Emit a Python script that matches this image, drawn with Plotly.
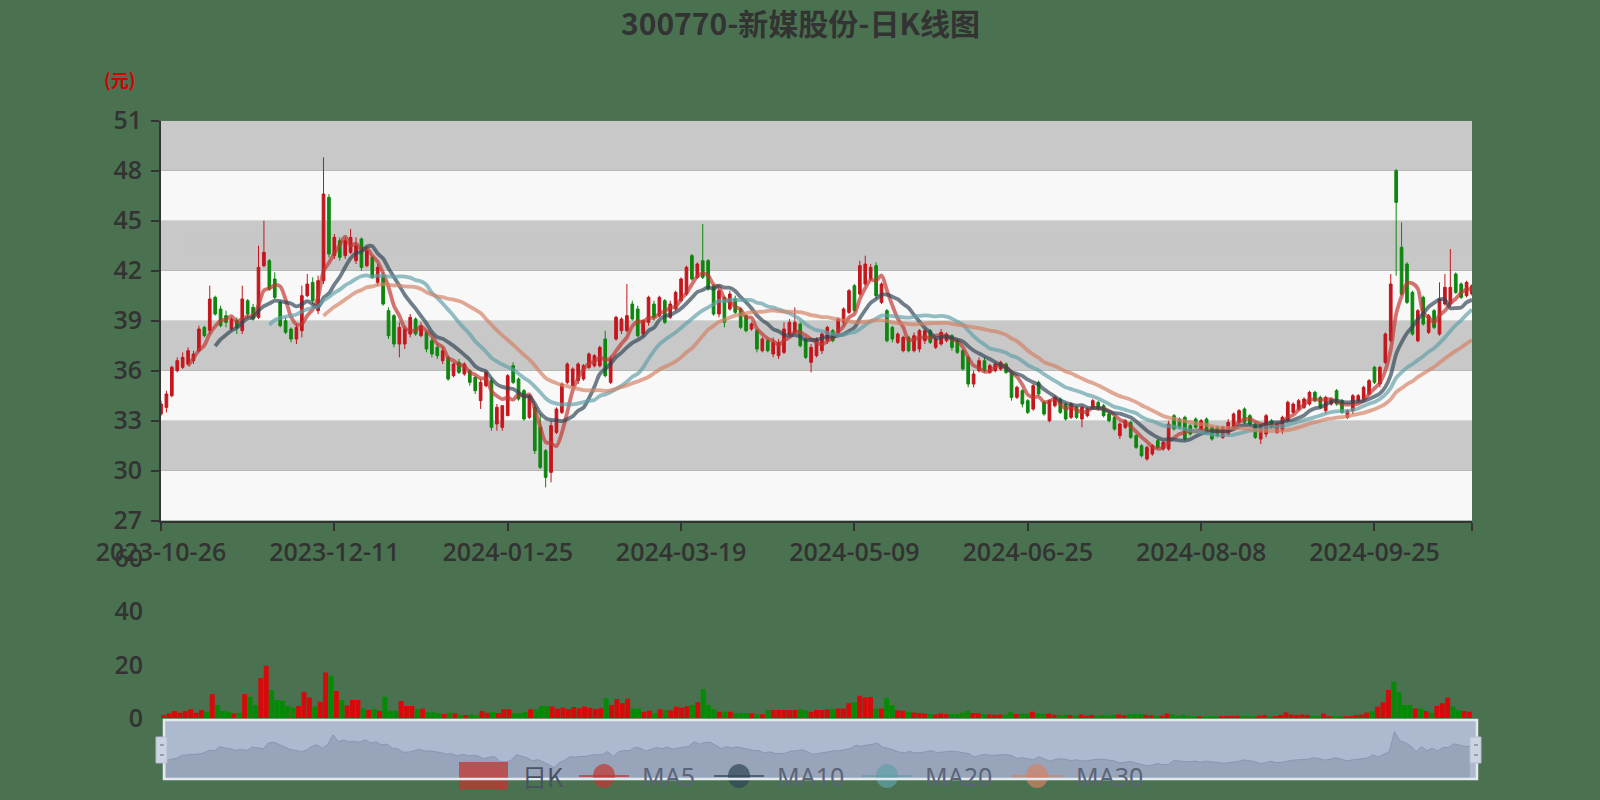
import pandas as pd
import plotly.graph_objects as go

# ---------------- data ----------------
HOLIDAYS = ["2024-01-01", "2024-02-09", "2024-02-12", "2024-02-13", "2024-02-14",
            "2024-02-15", "2024-02-16", "2024-04-04", "2024-04-05", "2024-05-01",
            "2024-05-02", "2024-05-03", "2024-06-10", "2024-09-16", "2024-09-17",
            "2024-10-01", "2024-10-02", "2024-10-03", "2024-10-04", "2024-10-07"]
dates = [d.strftime("%Y-%m-%d") for d in pd.bdate_range("2023-10-26", "2024-10-28")
         if d.strftime("%Y-%m-%d") not in HOLIDAYS]

open_p = [33.4,33.8,34.5,36.0,36.2,36.4,36.6,37.2,38.6,38.4,
          40.4,39.7,39.3,38.5,39.0,38.4,40.2,39.8,39.2,42.3,
          42.6,41.5,40.1,39.0,38.5,37.9,38.4,40.5,41.3,39.6,
          41.4,46.4,42.9,43.8,42.9,43.1,42.6,43.9,42.3,42.8,
          41.3,41.7,39.6,39.3,37.6,37.6,38.2,39.1,38.1,38.3,
          37.8,37.4,36.6,36.8,35.7,36.5,35.8,36.0,35.6,34.2,
          35.1,35.4,32.8,32.6,33.3,36.3,35.5,34.8,33.2,33.8,
          32.6,31.2,29.9,32.3,33.5,35.3,35.1,35.4,35.5,36.2,
          36.3,36.3,37.9,35.3,37.9,38.4,38.4,40.0,39.7,38.2,
          38.9,40.0,39.3,40.2,39.2,39.7,40.2,40.6,42.9,41.6,
          42.6,42.6,41.1,39.4,40.4,39.7,40.3,39.7,39.3,38.5,
          38.4,37.2,37.8,37.0,36.9,37.1,38.2,38.3,38.8,37.9,
          36.5,36.9,37.2,37.8,38.4,38.3,38.9,39.5,41.1,40.6,
          41.2,41.5,42.3,40.1,39.6,38.6,37.7,37.2,38.0,37.2,
          37.3,37.8,38.4,37.4,37.6,37.8,38.1,37.8,37.2,36.8,
          35.2,36.0,36.6,35.9,36.0,36.1,36.4,35.8,34.4,34.8,
          34.2,33.7,35.3,34.1,33.0,33.9,34.3,34.0,33.2,33.8,
          33.1,33.3,33.8,34.1,33.9,33.4,33.2,32.1,32.6,32.9,
          32.1,31.5,30.7,31.0,31.8,31.3,31.3,33.3,33.1,33.2,
          32.7,33.1,32.5,33.1,32.6,32.6,32.0,32.2,32.5,32.9,
          33.7,33.3,32.8,31.9,32.2,33.0,32.3,32.4,33.0,33.5,
          33.7,33.8,34.0,34.7,34.4,33.6,34.0,34.8,34.2,33.2,
          33.6,34.2,34.3,34.6,36.2,35.2,36.5,37.8,48.0,43.4,
          42.4,40.7,37.8,40.4,38.3,39.6,38.2,40.0,40.0,41.8,
          41.2,40.5,40.6]

high_p = [34.2,34.8,36.3,36.8,37.1,37.4,37.2,38.7,38.7,41.1,
          40.5,39.9,39.6,39.2,39.2,41.1,40.3,40.0,43.5,45.0,
          42.7,41.9,40.2,39.2,38.6,38.8,41.1,41.8,41.6,41.7,
          48.8,46.6,44.2,44.0,44.0,44.5,44.0,44.0,43.4,42.9,
          42.4,41.9,39.8,39.4,38.9,38.7,39.4,39.2,38.9,38.4,
          38.0,37.6,37.4,36.9,36.5,36.7,36.5,36.1,35.7,35.5,
          36.0,35.6,34.0,33.9,35.8,36.5,35.6,34.9,34.6,34.0,
          33.4,31.3,33.0,33.8,35.3,36.5,36.2,36.5,36.4,37.1,
          37.0,37.5,38.4,36.9,39.3,39.2,41.2,40.2,39.9,39.1,
          40.5,40.2,40.5,40.3,40.2,40.8,41.6,42.3,43.0,42.5,
          44.8,42.7,41.2,40.9,40.5,40.8,40.5,39.8,39.4,38.9,
          38.5,38.0,37.9,38.0,37.9,38.9,39.1,39.8,38.9,38.0,
          37.6,38.0,38.3,38.7,38.5,39.2,39.8,40.9,41.2,42.6,
          42.9,42.4,42.5,41.3,39.7,38.7,38.3,38.1,38.1,38.3,
          38.5,38.5,38.5,38.0,38.5,38.3,38.2,37.9,37.3,36.9,
          36.0,36.8,36.8,36.4,36.5,36.6,36.5,35.9,35.1,34.9,
          34.3,35.2,35.4,34.2,34.3,34.5,34.4,34.1,34.1,33.9,
          33.9,33.8,34.3,34.2,34.0,33.5,33.3,32.9,33.1,33.0,
          32.2,31.6,31.5,31.6,31.9,31.8,33.0,33.4,33.2,33.3,
          32.8,33.2,33.1,33.2,32.7,32.7,32.7,33.1,33.5,33.7,
          33.8,33.4,32.9,32.8,33.4,33.1,32.9,33.3,34.2,34.1,
          34.3,34.4,34.8,34.8,34.5,34.5,34.4,34.9,34.3,33.7,
          34.6,34.6,35.1,35.5,36.3,36.3,38.3,41.8,48.1,44.9,
          42.5,40.8,39.7,40.5,39.4,39.7,41.3,41.8,43.3,41.9,
          41.3,41.4,41.2]

low_p = [33.3,33.5,34.4,35.9,36.1,36.3,36.4,37.1,38.0,38.2,
         39.3,38.6,38.6,38.4,38.2,38.2,39.2,39.0,39.1,42.2,
         40.8,40.3,38.6,38.2,37.7,37.6,38.0,40.4,40.0,39.4,
         41.2,42.8,42.7,42.6,42.7,43.0,42.4,42.0,42.2,41.5,
         41.1,39.9,37.9,37.4,36.8,37.3,38.0,38.1,38.0,37.1,
         36.8,36.7,36.4,35.4,35.6,35.8,35.7,35.1,34.6,33.7,
         35.0,32.4,32.4,32.4,33.3,35.2,34.2,33.0,33.1,31.0,
         30.1,29.0,29.3,32.2,33.4,35.2,35.0,35.2,35.4,36.1,
         36.2,36.2,35.6,35.2,37.8,38.2,38.3,39.0,38.0,38.0,
         38.7,39.0,39.2,38.8,39.1,39.6,40.1,40.5,41.4,41.5,
         41.5,40.8,39.3,39.2,38.6,39.6,39.4,38.5,38.3,38.4,
         37.1,37.1,37.1,36.8,36.7,37.0,38.1,38.2,37.4,36.7,
         35.9,36.8,37.0,37.6,37.7,38.2,38.7,39.4,39.5,40.5,
         41.1,41.4,40.3,40.0,37.7,37.7,37.6,37.1,37.1,37.1,
         37.1,37.6,37.6,37.3,37.5,37.7,37.2,37.0,36.0,35.0,
         35.0,35.9,35.9,35.8,35.9,36.0,35.8,34.2,34.3,33.8,
         33.4,33.6,34.5,33.3,32.9,33.8,33.4,33.0,33.1,33.1,
         32.6,33.2,33.7,33.6,33.2,32.9,32.4,31.9,32.5,31.9,
         31.3,30.8,30.6,30.9,31.3,31.2,31.2,32.4,32.5,31.8,
         32.1,32.5,32.4,32.2,31.8,32.0,31.9,32.1,32.4,32.8,
         32.8,32.7,31.9,31.6,32.0,32.5,32.2,32.2,32.9,33.4,
         33.6,33.7,33.9,34.1,33.7,33.4,33.9,33.9,33.4,33.1,
         33.4,34.1,34.2,34.5,35.2,35.0,36.4,37.7,41.7,40.5,
         40.0,38.1,37.7,38.7,38.2,38.5,38.1,39.9,39.8,40.6,
         40.3,40.4,40.5]

close_p = [34.0,34.6,36.2,36.6,36.8,37.2,37.0,38.5,38.1,40.3,
           39.4,38.7,38.9,39.1,38.6,40.3,39.4,39.1,42.2,43.1,
           40.9,40.4,38.7,38.3,37.9,38.6,40.5,41.2,40.2,41.4,
           46.6,43.0,44.0,42.8,43.8,44.0,43.5,42.2,43.2,41.6,
           42.2,40.0,38.1,37.6,38.6,38.5,39.2,38.2,38.7,37.3,
           37.0,36.9,37.2,35.5,36.4,35.9,36.4,35.3,34.8,35.3,
           35.9,32.6,33.8,33.9,35.7,35.3,34.3,33.1,34.5,31.2,
           30.2,29.6,32.7,33.7,35.2,36.4,36.1,36.4,36.3,37.0,
           36.9,37.4,35.7,36.7,39.2,39.1,39.3,39.1,38.1,39.0,
           40.4,39.2,40.4,38.9,40.0,40.7,41.5,42.2,41.5,42.4,
           41.6,40.9,39.4,40.8,38.9,40.6,39.5,38.6,38.4,38.8,
           37.3,37.9,37.2,37.7,37.7,38.5,38.9,38.9,37.5,36.8,
           37.4,37.9,38.2,38.6,37.8,39.1,39.7,40.8,39.6,42.3,
           42.4,42.2,40.5,41.2,37.8,37.9,38.2,38.0,37.2,38.1,
           38.4,38.4,37.7,37.9,38.3,38.2,37.4,37.1,36.1,35.2,
           35.8,36.6,36.0,36.3,36.4,36.5,35.9,34.4,35.0,34.0,
           33.5,35.1,34.6,33.4,34.2,34.4,33.5,33.1,34.0,33.2,
           33.8,33.7,34.2,33.7,33.3,33.0,32.5,32.8,33.0,32.0,
           31.4,30.9,31.4,31.5,31.4,31.7,32.8,32.5,32.6,31.9,
           32.2,32.6,33.0,32.3,31.9,32.1,32.6,32.9,33.4,33.6,
           32.9,32.8,32.0,32.7,33.3,32.6,32.8,33.2,34.1,34.0,
           34.2,34.3,34.7,34.2,33.8,34.4,34.3,34.0,33.5,33.6,
           34.5,34.5,35.0,35.4,35.3,36.2,38.2,41.2,46.1,40.6,
           40.1,38.2,39.6,38.8,39.3,38.6,40.3,41.0,41.0,40.7,
           40.4,41.3,41.1]

volume = [1.2,1.9,2.7,2.1,2.7,3.4,2.1,3.1,2.5,9.1,
          5.0,2.8,2.5,1.9,2.1,9.1,8.1,5.0,15.1,19.7,
          10.6,6.9,6.6,4.6,4.0,4.6,9.9,7.8,4.4,6.2,
          17.2,16.0,10.2,6.9,4.8,6.9,6.9,3.7,3.1,3.5,
          2.8,8.1,2.8,2.8,6.5,4.6,4.6,3.5,3.6,2.3,
          2.3,1.9,1.6,2.2,1.9,1.2,1.2,1.5,1.2,2.7,
          2.1,2.4,2.0,3.4,3.4,1.9,2.0,2.5,3.4,3.4,
          4.6,4.6,4.4,3.6,4.0,3.5,4.2,3.8,4.4,4.0,
          3.5,3.8,7.5,5.0,7.2,5.6,7.3,3.7,3.7,2.5,
          2.8,1.9,3.4,3.0,3.0,4.4,4.0,4.5,5.0,6.0,
          11.0,5.0,3.4,2.5,2.5,2.5,1.9,1.9,1.9,1.9,
          1.5,1.5,3.1,3.1,3.1,3.1,3.1,3.1,3.4,3.0,
          2.5,3.1,3.1,3.4,3.4,3.7,3.7,5.6,6.0,8.5,
          7.8,8.0,3.7,3.7,7.5,5.0,3.0,2.8,2.5,2.2,
          2.0,1.8,1.6,1.4,1.8,1.5,1.6,1.5,2.2,2.8,
          2.0,1.9,1.5,1.4,1.3,1.4,1.3,2.3,1.6,1.8,
          1.7,2.5,1.9,1.6,1.8,1.3,1.2,1.3,1.2,1.0,
          1.4,1.0,1.2,1.0,1.1,1.0,1.3,1.4,1.1,1.5,
          1.6,1.5,1.3,1.1,1.0,1.0,1.8,1.4,1.0,1.3,
          0.9,0.9,0.6,0.8,0.9,0.8,0.9,0.9,1.0,1.0,
          0.9,0.8,0.9,1.0,1.2,0.7,0.9,1.2,2.2,1.4,
          1.2,1.4,1.2,0.9,0.9,1.8,0.9,0.9,0.6,0.8,
          0.9,1.2,1.4,2.2,2.6,4.4,6.0,10.6,13.7,10.0,
          5.0,5.0,3.7,3.7,2.7,2.1,4.6,5.6,7.8,4.4,
          3.0,2.7,2.5]

price_ticks = [27, 30, 33, 36, 39, 42, 45, 48, 51]
volume_ticks = [0, 20, 40, 60]
label_step = 32
ma_days = [5, 10, 20, 30]
ma_names = ["MA5", "MA10", "MA20", "MA30"]
ma_colors = ["#c23531", "#2f4554", "#61a0a8", "#d48265"]

n = len(dates)
assert n == len(open_p) == len(high_p) == len(low_p) == len(close_p) == len(volume) == 243


def moving_average(days):
    out = []
    for i in range(n):
        if i < days:
            out.append(None)
        else:
            out.append(round(sum(close_p[i - j] for j in range(days)) / days, 3))
    return out


UP = "#c4161c"
DOWN = "#0d870d"
BG = "#4a7250"
TXT = "#333333"
W, H = 1600, 800


def px_x(v):
    return v / W


def px_y(v):
    return 1 - v / H


fig = go.Figure()

# ----- candlestick -----
fig.add_trace(go.Candlestick(
    x=dates, open=open_p, high=high_p, low=low_p, close=close_p,
    increasing=dict(line=dict(color=UP, width=1), fillcolor=UP),
    decreasing=dict(line=dict(color=DOWN, width=1), fillcolor=DOWN),
    whiskerwidth=0, showlegend=False, xaxis="x", yaxis="y", name="日K"))

# ----- moving averages -----
for d, nm, c in zip(ma_days, ma_names, ma_colors):
    fig.add_trace(go.Scatter(
        x=dates, y=moving_average(d), mode="lines", name=nm,
        line=dict(color=c, width=3.8, shape="spline", smoothing=0.8),
        opacity=0.68, showlegend=False, connectgaps=False,
        xaxis="x", yaxis="y", hoverinfo="skip"))

# ----- volume -----
vol_colors = ["#d60a0a" if close_p[i] >= open_p[i] else "#058a05" for i in range(n)]
fig.add_trace(go.Bar(x=dates, y=volume, marker=dict(color=vol_colors, line=dict(width=0)),
                     xaxis="x2", yaxis="y2", showlegend=False, name="成交量"))

# ----- data zoom shadow -----
fig.add_trace(go.Scatter(x=dates, y=open_p, mode="lines", fill="tozeroy",
                         fillcolor="#98a4ba", line=dict(color="#8797b0", width=1),
                         xaxis="x3", yaxis="y3", showlegend=False, hoverinfo="skip"))

tick_vals = dates[::label_step] + [dates[-1]]
tick_text = dates[::label_step] + [""]

axis_font = dict(family="Open Sans, Noto Sans, sans-serif", size=25, color=TXT, weight=600)
x_dom = [px_x(161), px_x(1472)]

fig.update_layout(
    width=W, height=H, autosize=False,
    margin=dict(l=0, r=0, t=0, b=0, pad=0, autoexpand=False),
    paper_bgcolor=BG, plot_bgcolor="rgba(0,0,0,0)",
    showlegend=False, bargap=0.08,
    xaxis=dict(domain=x_dom, anchor="y", type="category", range=[0, n - 1],
               tickmode="array", tickvals=tick_vals, ticktext=tick_text,
               ticks="outside", ticklen=8, tickwidth=1.5, tickcolor=TXT,
               showline=True, linecolor=TXT, linewidth=2, showgrid=False,
               zeroline=False, tickfont=axis_font, automargin=False,
               rangeslider=dict(visible=False)),
    yaxis=dict(domain=[px_y(520.7), px_y(120.7)], anchor="x", range=[27, 51],
               tickmode="array", tickvals=price_ticks,
               ticks="outside", ticklen=8, tickwidth=1.5, tickcolor=TXT,
               showline=True, linecolor=TXT, linewidth=2, showgrid=False,
               zeroline=False, tickfont=axis_font, ticklabelstandoff=4,
               automargin=False),
    xaxis2=dict(domain=x_dom, anchor="y2", type="category", range=[-0.5, n - 0.5],
                visible=False, automargin=False),
    yaxis2=dict(domain=[px_y(718.3), px_y(558.3)], anchor="x2", range=[0, 60],
                tickmode="array", tickvals=volume_ticks, showgrid=False,
                showline=False, zeroline=False, ticks="outside", ticklen=8,
                tickcolor="rgba(0,0,0,0)", tickfont=axis_font, ticklabelstandoff=4,
                automargin=False),
    xaxis3=dict(domain=[px_x(166), px_x(1470)], anchor="y3", type="category",
                range=[0, n - 1], visible=False, automargin=False),
    yaxis3=dict(domain=[px_y(778), px_y(721)], anchor="x3", range=[24.5, 53.4],
                visible=False, automargin=False),
)

shapes = []
# alternating split areas
for k in range(len(price_ticks) - 1):
    shapes.append(dict(type="rect", xref="x domain", yref="y", x0=0, x1=1,
                       y0=price_ticks[k], y1=price_ticks[k + 1], layer="below",
                       fillcolor="#f8f8f8" if k % 2 == 0 else "#c8c8c8",
                       line=dict(width=0)))
# slider background
shapes.append(dict(type="rect", xref="paper", yref="paper",
                   x0=px_x(164), x1=px_x(1477), y0=px_y(779), y1=px_y(720),
                   fillcolor="#adb9cf", line=dict(width=0), layer="below"))

# manual legend
leg_y = 776
shapes.append(dict(type="rect", xref="paper", yref="paper",
                   x0=px_x(459), x1=px_x(508), y0=px_y(790), y1=px_y(762),
                   fillcolor="#c23531", line=dict(width=0), layer="above", opacity=0.75))
leg_items = [(579, "MA5", ma_colors[0]), (714, "MA10", ma_colors[1]),
             (862, "MA20", ma_colors[2]), (1012, "MA30", ma_colors[3])]
for x0, nm, c in leg_items:
    shapes.append(dict(type="line", xref="paper", yref="paper",
                       x0=px_x(x0), x1=px_x(x0 + 50), y0=px_y(leg_y), y1=px_y(leg_y),
                       line=dict(color=c, width=2), layer="above", opacity=0.7))
    shapes.append(dict(type="circle", xref="paper", yref="paper",
                       x0=px_x(x0 + 14), x1=px_x(x0 + 36), y0=px_y(leg_y + 12),
                       y1=px_y(leg_y - 12), fillcolor=c, line=dict(width=0),
                       layer="above", opacity=0.7))

# slider border and handles
shapes.append(dict(type="rect", xref="paper", yref="paper",
                   x0=px_x(164), x1=px_x(1477), y0=px_y(779), y1=px_y(720),
                   fillcolor="rgba(0,0,0,0)", line=dict(color="#e4e9f0", width=2.5),
                   layer="above"))
for hx in (156, 1470):
    shapes.append(dict(type="rect", xref="paper", yref="paper",
                       x0=px_x(hx), x1=px_x(hx + 11), y0=px_y(763), y1=px_y(737),
                       fillcolor="#ccd4e3", line=dict(color="#b4bdcd", width=1),
                       layer="above"))
    for yy in (745, 755):
        shapes.append(dict(type="line", xref="paper", yref="paper",
                           x0=px_x(hx + 4), x1=px_x(hx + 8), y0=px_y(yy), y1=px_y(yy),
                           line=dict(color="#5d6b80", width=1), layer="above"))
fig.update_layout(shapes=shapes)

annotations = [
    dict(text="<b>300770-新媒股份-日K线图</b>", xref="paper", yref="paper",
         x=0.5, y=px_y(22.5), xanchor="center", yanchor="middle", showarrow=False,
         font=dict(family="Noto Sans CJK SC", size=30, color="#333333")),
    dict(text="<b>(元)</b>", xref="paper", yref="paper", x=px_x(120), y=px_y(79),
         xanchor="center", yanchor="middle", showarrow=False,
         font=dict(family="Noto Sans CJK SC", size=18, color="#d40000")),
    dict(text="日K", xref="paper", yref="paper", x=px_x(520), y=px_y(leg_y),
         xanchor="left", yanchor="middle", showarrow=False,
         font=dict(family="Noto Sans CJK SC", size=25, color="#4a5162")),
]
for (x0, nm, c), tx in zip(leg_items, (640, 775, 923, 1074)):
    annotations.append(dict(text=nm, xref="paper", yref="paper", x=px_x(tx), y=px_y(leg_y),
                            xanchor="left", yanchor="middle", showarrow=False,
                            font=dict(family="Noto Sans, sans-serif", size=25,
                                      color="#5a6477")))
fig.update_layout(annotations=annotations)

fig.write_html("out.html", config={"displayModeBar": False, "responsive": False},
               post_script="document.body.style.margin='0';document.body.style.overflow='hidden';")
